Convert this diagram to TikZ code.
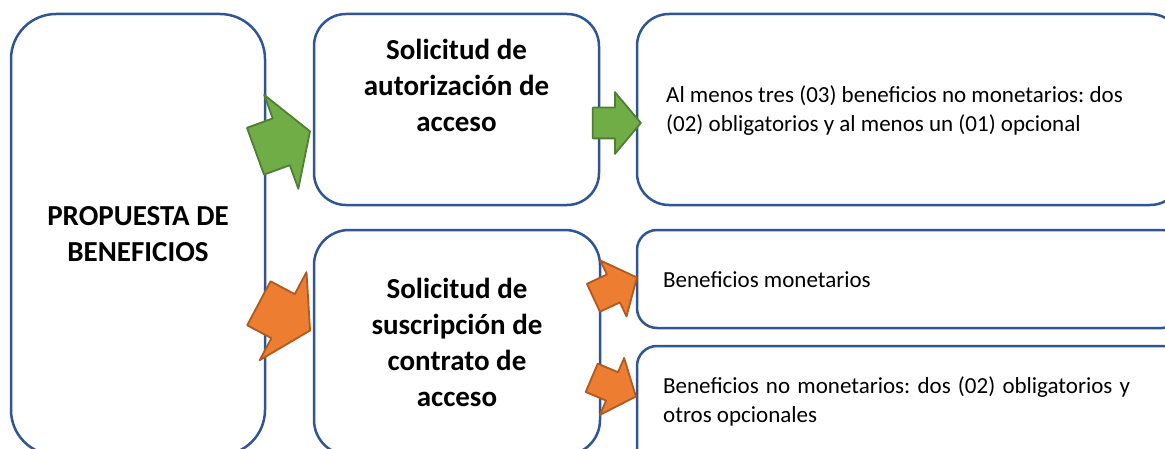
\documentclass[tikz,border=0pt]{standalone}
\usepackage{fontspec}
\setmainfont{Carlito}
\frenchspacing
\usetikzlibrary{shapes.arrows, positioning}
\definecolor{boxblue}{HTML}{2F5597}
\definecolor{leafgreen}{HTML}{70AD47}
\definecolor{leafgreenline}{HTML}{507E32}
\definecolor{accentorange}{HTML}{ED7D31}
\definecolor{accentorangeline}{HTML}{AE5A21}

\begin{document}
\begin{tikzpicture}[x=1pt, y=1pt, line join=round,
  box/.style={draw=boxblue, line width=2.5pt, fill=white, inner sep=0pt, outer sep=0pt},
  bigtext/.style={align=center, inner sep=0pt, font=\fontsize{29}{36}\selectfont\bfseries},
  smalltext/.style={align=left, inner sep=0pt, font=\fontsize{23}{29}\selectfont},
  bigarrow/.style={single arrow, draw, line width=1.8pt, inner xsep=0pt, inner ysep=24pt, single arrow head extend=25pt, single arrow tip angle=117, minimum height=58pt, anchor=tip},
  smallarrow/.style={single arrow, draw, line width=1.8pt, inner xsep=0pt, inner ysep=14.5pt, single arrow head extend=15.5pt, single arrow tip angle=100, minimum height=48pt, anchor=tip},
  greenarrow/.style={fill=leafgreen, draw=leafgreenline},
  orangearrow/.style={fill=accentorange, draw=accentorangeline}]
\useasboundingbox (0,0) rectangle (1165,448);
\clip (0,0) rectangle (1165,448);
% Boxes
\node[box, bigtext, rounded corners=45pt, minimum width=254pt, minimum height=441pt] (A) at (138,213.5) {PROPUESTA DE\\BENEFICIOS};
\node[box, rounded corners=32pt, minimum width=285pt, minimum height=191pt, right=49pt of A.north east, anchor=north west] (B) {};
\node[box, bigtext, rounded corners=35pt, minimum width=286pt, minimum height=225pt, below=25pt of B.south west, anchor=north west] (C) {Solicitud de\\suscripción de\\contrato de\\acceso};
\node[box, rounded corners=32pt, minimum width=545pt, minimum height=191pt, right=38pt of B.north east, anchor=north west] (D) {};
\node[box, rounded corners=20pt, minimum width=545pt, minimum height=98pt, below=25pt of D.south west, anchor=north west] (E) {};
\node[box, rounded corners=20pt, minimum width=545pt, minimum height=124pt, below=18pt of E.south west, anchor=north west] (F) {};
% Text
\node[bigtext] (Btext) at ([yshift=-71pt]B.north) {Solicitud de\\autorización de\\acceso};
\node[smalltext, anchor=west] (Dtext) at ([shift={(29,-1.5)}]D.west) {Al menos tres (03) beneficios no monetarios: dos\\(02) obligatorios y al menos un (01) opcional};
\node[smalltext, anchor=west] (Etext) at ([shift={(26,-1)}]E.west) {Beneficios monetarios};
\node[smalltext, anchor=west] (Ftext) at ([shift={(26,7)}]F.west) {\makebox[467pt][s]{Beneficios no monetarios: dos (02) obligatorios y}\\otros opcionales};
% Arrows
\node[bigarrow, greenarrow, rotate=20] (AB) at ([shift={(-3,-21.5)}]B.west) {};
\node[bigarrow, orangearrow, rotate=-28] (AC) at ([shift={(-3,11.5)}]C.west) {};
\node[smallarrow, greenarrow] (BD) at ([shift={(5,-13.5)}]D.west) {};
\node[smallarrow, orangearrow, rotate=25] (CE) at ([shift={(1,2)}]E.west) {};
\node[smallarrow, orangearrow, rotate=-23] (CF) at ([shift={(0,11)}]F.west) {};
\end{tikzpicture}
\end{document}
